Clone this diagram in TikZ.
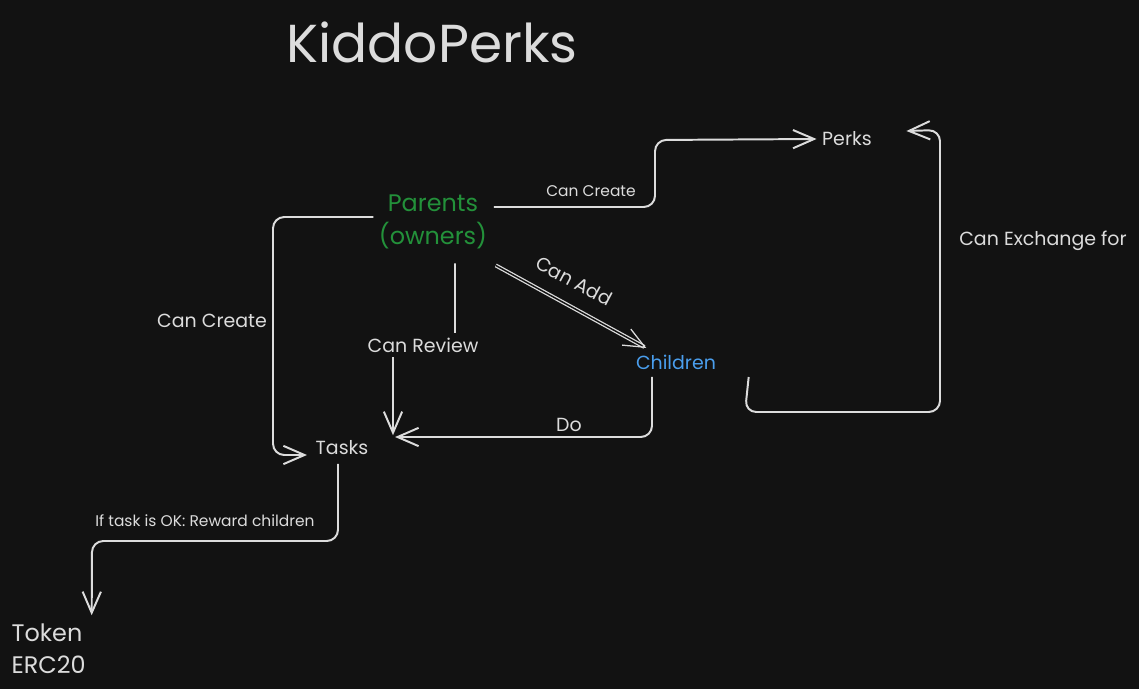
\documentclass[tikz,border=0pt]{standalone}
\usepackage{fontspec}
\setmainfont{Poppins}
\usetikzlibrary{arrows.meta}

\definecolor{bg}{HTML}{121212}
\definecolor{ink}{HTML}{DCDCDC}
\definecolor{owner}{HTML}{23913A}
\definecolor{kid}{HTML}{4A9EED}

\tikzset{
  lbl/.style={text=ink, font=\fontsize{13.5}{16}\selectfont, inner sep=1pt},
  small/.style={text=ink, font=\fontsize{11}{13}\selectfont, inner sep=1pt},
  big/.style={font=\fontsize{17}{23}\selectfont, inner sep=1pt},
  link/.style={draw=ink, line width=1.4pt, rounded corners=8pt,
    -{Straight Barb[length=15pt,width=13pt]}},
}

\begin{document}
\begin{tikzpicture}[x=0.025cm, y=-0.025cm]
\fill[bg] (0,0) rectangle (1139,689);
\useasboundingbox (0,0) rectangle (1139,689);

\node [text=ink, font=\fontsize{38}{40}\selectfont] (title) at (432,42) {KiddoPerks};
\node [big, text=owner, align=center] (parents) at (433,222) {Parents\\(owners)};
\node [lbl] (perks) at (847,139) {Perks};
\node [lbl, text=kid] (children) at (676,362) {Children};
\node [lbl] (tasks) at (342,448) {Tasks};
\node [big, text=ink, align=left, anchor=west] (token) at (10,649) {Token\\ERC20};

\draw[link] ([shift={(5,-15)}]parents.east) -- (655,207) -- (655,140) -- ([shift={(-4,0)}]perks.west);
\draw[link] ([shift={(-4,-5)}]parents.west) -- (273,217) -- (273,455) -- ([shift={(-7,7)}]tasks.west);
\draw[link, line width=0.9pt, double=bg, double distance=1pt] ([shift={(7,15)}]parents.south east) -- ([shift={(12,-5)}]children.north west);
\draw[link] ([shift={(22,13)}]parents.south) -- (455,345) -- (393,345) -- ([shift={(51,-4)}]tasks.north);
\draw[link] ([shift={(-24,6)}]children.south) -- (652,437) -- ([shift={(25,-11)}]tasks.east);
\draw[link] ([shift={(31,6)}]children.south east) -- (745,412) -- (940,412) -- (940,130) -- ([shift={(33,-8)}]perks.east);
\draw[link] ([shift={(-4,7)}]tasks.south) -- (338,541) -- (92,541) -- ([shift={(43,-7)}]token.north);

\node [small] (create1) at (591,191) {Can Create};
\node [lbl] (create2) at (212,321) {Can Create};
\node [lbl, rotate=-28] (add) at (574,281) {Can Add};
\node [lbl, fill=bg, inner sep=3pt] (review) at (423,345) {Can Review};
\node [lbl] (do) at (569,425) {Do};
\node [lbl] (swap) at (1043,241) {Can Exchange for};
\node [small] (reward) at (205,521) {If task is OK: Reward children};
\end{tikzpicture}
\end{document}
